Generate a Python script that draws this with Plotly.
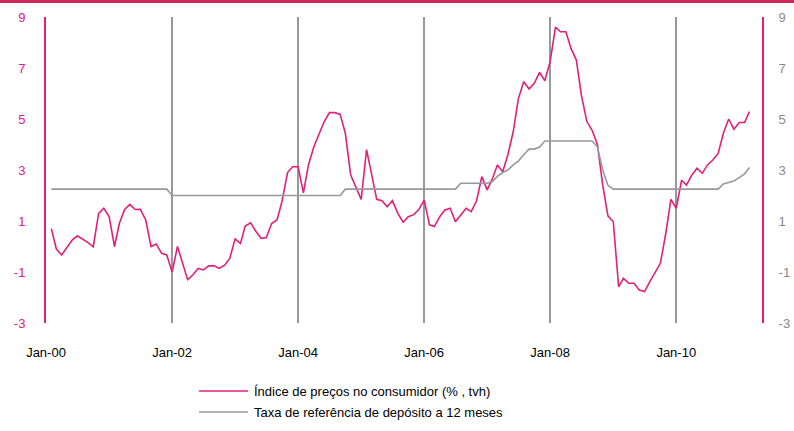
import pandas as pd
import plotly.graph_objects as go

# Monthly series, Feb-2000 .. Mar-2011
start_month = "2000-02-01"
cpi = [0.7, -0.1, -0.33, -0.05, 0.25, 0.42, 0.3, 0.15, -0.01, 1.3,
       1.5, 1.17, 0.0, 0.9, 1.45, 1.65, 1.45, 1.46, 1.04, 0.0,
       0.1, -0.27, -0.33, -1.0, 0.0, -0.6, -1.3, -1.12, -0.86, -0.92,
       -0.76, -0.76, -0.86, -0.73, -0.47, 0.3, 0.12, 0.8, 0.93, 0.6,
       0.32, 0.35, 0.9, 1.04, 1.8, 2.9, 3.13, 3.13, 2.1, 3.2,
       3.9, 4.4, 4.9, 5.25, 5.25, 5.18, 4.44, 2.8, 2.35, 1.85,
       3.8, 2.8, 1.85, 1.8, 1.56, 1.8, 1.3, 0.95, 1.17, 1.25,
       1.45, 1.82, 0.85, 0.78, 1.17, 1.43, 1.5, 0.97, 1.24, 1.5,
       1.37, 1.8, 2.74, 2.22, 2.67, 3.2, 2.93, 3.6, 4.5, 5.8,
       6.46, 6.18, 6.4, 6.83, 6.5, 7.25, 8.6, 8.42, 8.42, 7.77,
       7.31, 5.9, 4.9, 4.55, 4.0, 2.4, 1.2, 0.97, -1.58, -1.25,
       -1.44, -1.44, -1.71, -1.77, -1.38, -1.0, -0.66, 0.5, 1.85, 1.5,
       2.6, 2.41, 2.8, 3.07, 2.87, 3.2, 3.39, 3.65, 4.44, 5.0,
       4.6, 4.86, 4.86, 5.29]
deposit = [2.25] * 22 + [2.25, 2.0] + [2.0] * 32 + [2.25] * 22 + \
          [2.48] * 6 + [2.55, 2.75, 2.9, 3.0, 3.2, 3.35, 3.6, 3.82, 3.82, 3.9,
                        4.14, 4.14, 4.14, 4.14, 4.14, 4.14, 4.14, 4.14, 4.14, 4.14,
                        3.9, 3.0, 2.4] + [2.25] * 21 + \
          [2.45, 2.5, 2.57, 2.7, 2.85, 3.1]

dates = pd.date_range(start_month, periods=len(cpi), freq="MS")
dates_dep = pd.date_range(start_month, periods=len(deposit), freq="MS")

tick_vals = ["2000-01-01", "2002-01-01", "2004-01-01", "2006-01-01", "2008-01-01", "2010-01-01"]
tick_text = ["Jan-00", "Jan-02", "Jan-04", "Jan-06", "Jan-08", "Jan-10"]
y_ticks = [-3, -1, 1, 3, 5, 7, 9]
y_tick_text = ["-3", "-1", "1", "3", "5", "7", "9"]

name_cpi = "Índice de preços no consumidor (% , tvh)"
name_dep = "Taxa de referência de depósito a 12 meses"

PINK = "#e0207a"
GRAY = "#999999"

# plot-area geometry (pixels)
W, H = 794, 431
ML, MR, MT, MB = 46, 32, 17, 108
PW, PH = W - ML - MR, H - MT - MB


def px_x(p):
    return (p - ML) / PW


def px_y(p):
    return (H - MB - p) / PH


fig = go.Figure()
fig.add_trace(go.Scatter(x=dates, y=cpi, mode="lines", name=name_cpi, showlegend=False,
                         line=dict(color=PINK, width=1.6)))
fig.add_trace(go.Scatter(x=dates_dep, y=deposit, mode="lines", name=name_dep, showlegend=False,
                         yaxis="y2", line=dict(color=GRAY, width=1.6)))

font = "Liberation Sans, Arial, sans-serif"

legend_items = [(name_cpi, PINK, 391), (name_dep, GRAY, 412)]
shapes = [dict(type="rect", xref="paper", yref="paper",
               x0=px_x(0), x1=px_x(W), y0=px_y(3), y1=px_y(0),
               fillcolor="#d1285d", line=dict(width=0), layer="above")]
annotations = []
for text, color, yy in legend_items:
    shapes.append(dict(type="line", xref="paper", yref="paper",
                       x0=px_x(199), x1=px_x(248), y0=px_y(yy), y1=px_y(yy),
                       line=dict(color=color, width=1.6)))
    annotations.append(dict(xref="paper", yref="paper", x=px_x(252), y=px_y(yy),
                            xanchor="left", yanchor="middle", showarrow=False,
                            text=text, font=dict(size=13, color="black", family=font)))

fig.update_layout(
    width=W, height=H,
    margin=dict(l=ML, r=MR, t=MT, b=MB),
    paper_bgcolor="white", plot_bgcolor="white",
    font=dict(family=font, size=13, color="black"),
    showlegend=False,
    xaxis=dict(range=["2000-01-01", "2011-05-13"], tickvals=tick_vals, ticktext=tick_text,
               showgrid=True, gridcolor=GRAY, gridwidth=1.6, showline=False, zeroline=False,
               automargin=False,
               ticks="", ticklabelstandoff=20, tickfont=dict(size=13, color="black")),
    yaxis=dict(range=[-3, 9], tickvals=y_ticks, ticktext=y_tick_text, showgrid=False,
               zeroline=False, automargin=False,
               showline=True, linecolor=PINK, linewidth=2, ticks="",
               ticklabelstandoff=16, tickfont=dict(size=13, color=PINK)),
    yaxis2=dict(range=[-3, 9], tickvals=y_ticks, ticktext=y_tick_text, overlaying="y",
                side="right", automargin=False,
                showgrid=False, zeroline=False, showline=True, linecolor=PINK, linewidth=2,
                ticks="", ticklabelstandoff=12, tickfont=dict(size=13, color="#888888")),
    shapes=shapes,
    annotations=annotations,
)

fig.write_html("out.html", config={"displayModeBar": False},
               post_script="document.body.style.margin='0';document.body.style.overflow='hidden';")
